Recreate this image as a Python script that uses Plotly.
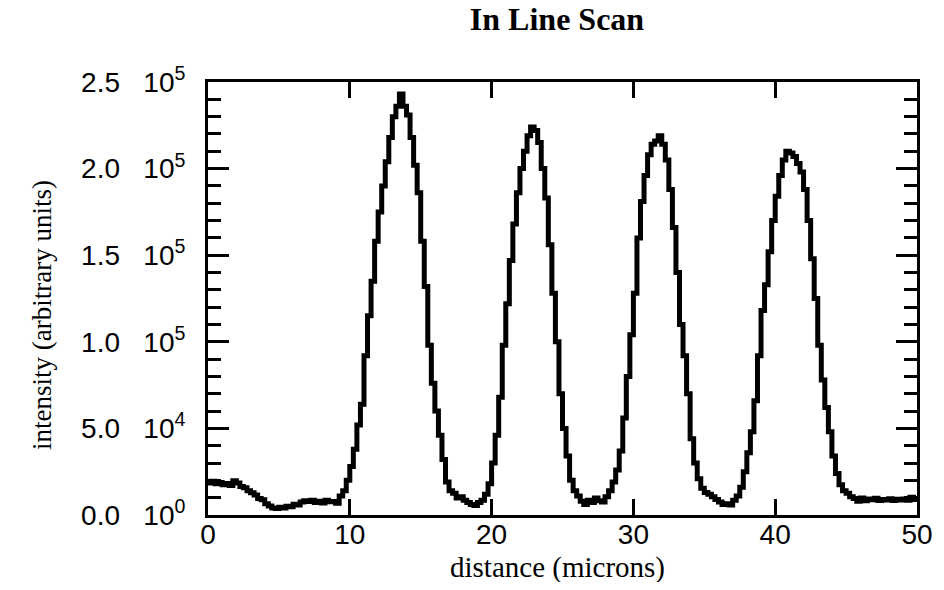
import plotly.graph_objects as go

# distance (microns)
distance = [
    0.00, 0.25, 0.50, 0.75, 1.00, 1.25, 1.50, 1.75, 2.00, 2.25, 2.50, 2.75,
    3.00, 3.25, 3.50, 3.75, 4.00, 4.25, 4.50, 4.75, 5.00, 5.25, 5.50, 5.75,
    6.00, 6.25, 6.50, 6.75, 7.00, 7.25, 7.50, 7.75, 8.00, 8.25, 8.50, 8.75,
    9.00, 9.25, 9.50, 9.75, 10.00, 10.25, 10.50, 10.75, 11.00, 11.25, 11.50, 11.75,
    12.00, 12.25, 12.50, 12.75, 13.00, 13.25, 13.50, 13.75, 14.00, 14.25, 14.50, 14.75,
    15.00, 15.25, 15.50, 15.75, 16.00, 16.25, 16.50, 16.75, 17.00, 17.25, 17.50, 17.75,
    18.00, 18.25, 18.50, 18.75, 19.00, 19.25, 19.50, 19.75, 20.00, 20.25, 20.50, 20.75,
    21.00, 21.25, 21.50, 21.75, 22.00, 22.25, 22.50, 22.75, 23.00, 23.25, 23.50, 23.75,
    24.00, 24.25, 24.50, 24.75, 25.00, 25.25, 25.50, 25.75, 26.00, 26.25, 26.50, 26.75,
    27.00, 27.25, 27.50, 27.75, 28.00, 28.25, 28.50, 28.75, 29.00, 29.25, 29.50, 29.75,
    30.00, 30.25, 30.50, 30.75, 31.00, 31.25, 31.50, 31.75, 32.00, 32.25, 32.50, 32.75,
    33.00, 33.25, 33.50, 33.75, 34.00, 34.25, 34.50, 34.75, 35.00, 35.25, 35.50, 35.75,
    36.00, 36.25, 36.50, 36.75, 37.00, 37.25, 37.50, 37.75, 38.00, 38.25, 38.50, 38.75,
    39.00, 39.25, 39.50, 39.75, 40.00, 40.25, 40.50, 40.75, 41.00, 41.25, 41.50, 41.75,
    42.00, 42.25, 42.50, 42.75, 43.00, 43.25, 43.50, 43.75, 44.00, 44.25, 44.50, 44.75,
    45.00, 45.25, 45.50, 45.75, 46.00, 46.25, 46.50, 46.75, 47.00, 47.25, 47.50, 47.75,
    48.00, 48.25, 48.50, 48.75, 49.00, 49.25, 49.50, 49.75, 50.00,
]

# intensity (arbitrary units)
intensity = [
    18500, 19500, 18000, 18800, 17500, 18200, 17000, 19800, 18500, 16500, 15800, 14000,
    12800, 11500, 9500, 8800, 6500, 5200, 4000, 3800, 4500, 4000, 5000, 4800,
    6200, 5800, 7500, 8200, 7800, 8500, 7200, 8000, 7000, 8500, 7600, 7800,
    6800, 11000, 14000, 20000, 28000, 38000, 52000, 64000, 92000, 115000, 135000, 158000,
    175000, 190000, 204000, 218000, 230000, 236000, 243000, 236000, 231000, 218000, 202000, 186000,
    158000, 132000, 98000, 76000, 60000, 46000, 32000, 19000, 14000, 12500, 9800, 10500,
    8500, 7200, 6000, 5500, 7200, 8500, 12000, 18000, 30000, 46000, 68000, 98000,
    122000, 147000, 168000, 186000, 200000, 210000, 219000, 224000, 222000, 215000, 200000, 183000,
    156000, 128000, 100000, 70000, 50000, 34000, 20000, 14000, 11000, 8000, 6000, 8500,
    7200, 9800, 8200, 7500, 10500, 14000, 19000, 26000, 37000, 56000, 80000, 104000,
    128000, 160000, 181000, 196000, 208000, 214000, 216000, 219000, 214000, 205000, 188000, 166000,
    140000, 110000, 92000, 70000, 44000, 30000, 21000, 15500, 13000, 12000, 10500, 9000,
    7500, 6000, 6500, 5800, 8500, 11000, 16000, 25000, 36000, 48000, 66000, 92000,
    118000, 133000, 152000, 170000, 184000, 196000, 205000, 210000, 209000, 207000, 203000, 198000,
    188000, 170000, 148000, 125000, 98000, 78000, 62000, 48000, 34000, 24000, 17500, 14000,
    12500, 10500, 9500, 8000, 9800, 8200, 9200, 8800, 9600, 8400, 9000, 8700,
    9400, 8300, 9100, 8600, 9200, 8500, 10200, 9000, 9500,
]

x_tickvals = [0, 10, 20, 30, 40, 50]
x_ticktext = ["0", "10", "20", "30", "40", "50"]
y_tickvals = [0, 50000, 100000, 150000, 200000, 250000]
y_ticktext = ["0.0\u00a0\u00a0\u00a010<sup>0</sup>", "5.0\u00a0\u00a0\u00a010<sup>4</sup>",
              "1.0\u00a0\u00a0\u00a010<sup>5</sup>", "1.5\u00a0\u00a0\u00a010<sup>5</sup>",
              "2.0\u00a0\u00a0\u00a010<sup>5</sup>", "2.5\u00a0\u00a0\u00a010<sup>5</sup>"]

fig = go.Figure()
fig.add_trace(go.Scatter(
    x=distance, y=intensity, mode="lines",
    line=dict(color="black", width=5, shape="hv"),
    showlegend=False, hoverinfo="skip",
))

tick_font = dict(family="Liberation Sans, Arial, sans-serif", size=28, color="black")
serif = "Liberation Serif, Times New Roman, serif"

W, H = 928, 574  # page body adds an 8px offset inside the 944x590 window

fig.update_layout(
    width=W, height=H,
    margin=dict(l=200, r=19, t=74, b=67, autoexpand=False),
    paper_bgcolor="white", plot_bgcolor="white",
    title=dict(text="<b>In Line Scan</b>", x=549 / W, xanchor="center",
               y=1.0, yanchor="top", xref="container", yref="container",
               pad=dict(t=0, b=0, l=0, r=0),
               font=dict(size=32, family=serif, color="black")),
    xaxis=dict(
        range=[0, 50], tickmode="array", tickvals=x_tickvals, ticktext=x_ticktext,
        ticks="inside", ticklen=16, tickwidth=3, tickcolor="black",
        showline=True, linewidth=3, linecolor="black", mirror="allticks",
        showgrid=False, zeroline=False, tickfont=tick_font, automargin=False,
        ticklabelstandoff=-8,
    ),
    yaxis=dict(
        range=[0, 250000], tickmode="array", tickvals=y_tickvals, ticktext=y_ticktext,
        ticks="inside", ticklen=21, tickwidth=3, tickcolor="black",
        minor=dict(ticks="inside", ticklen=13, tickwidth=3, tickcolor="black", dtick=10000),
        showline=True, linewidth=3, linecolor="black", mirror="allticks",
        showgrid=False, zeroline=False, tickfont=tick_font, automargin=False,
        ticklabelstandoff=14,
    ),
    annotations=[
        dict(text="distance (microns)", xref="paper", yref="paper",
             x=(557 - 208) / 709, y=-52 / 433, xanchor="center", yanchor="middle",
             showarrow=False, font=dict(size=29, family=serif, color="black")),
        dict(text="intensity (arbitrary units)", xref="paper", yref="paper",
             x=(42 - 208) / 709, y=(515 - 315) / 433, xanchor="center", yanchor="middle",
             textangle=-90, showarrow=False,
             font=dict(size=27, family=serif, color="black")),
    ],
)

fig.write_html("out.html")
